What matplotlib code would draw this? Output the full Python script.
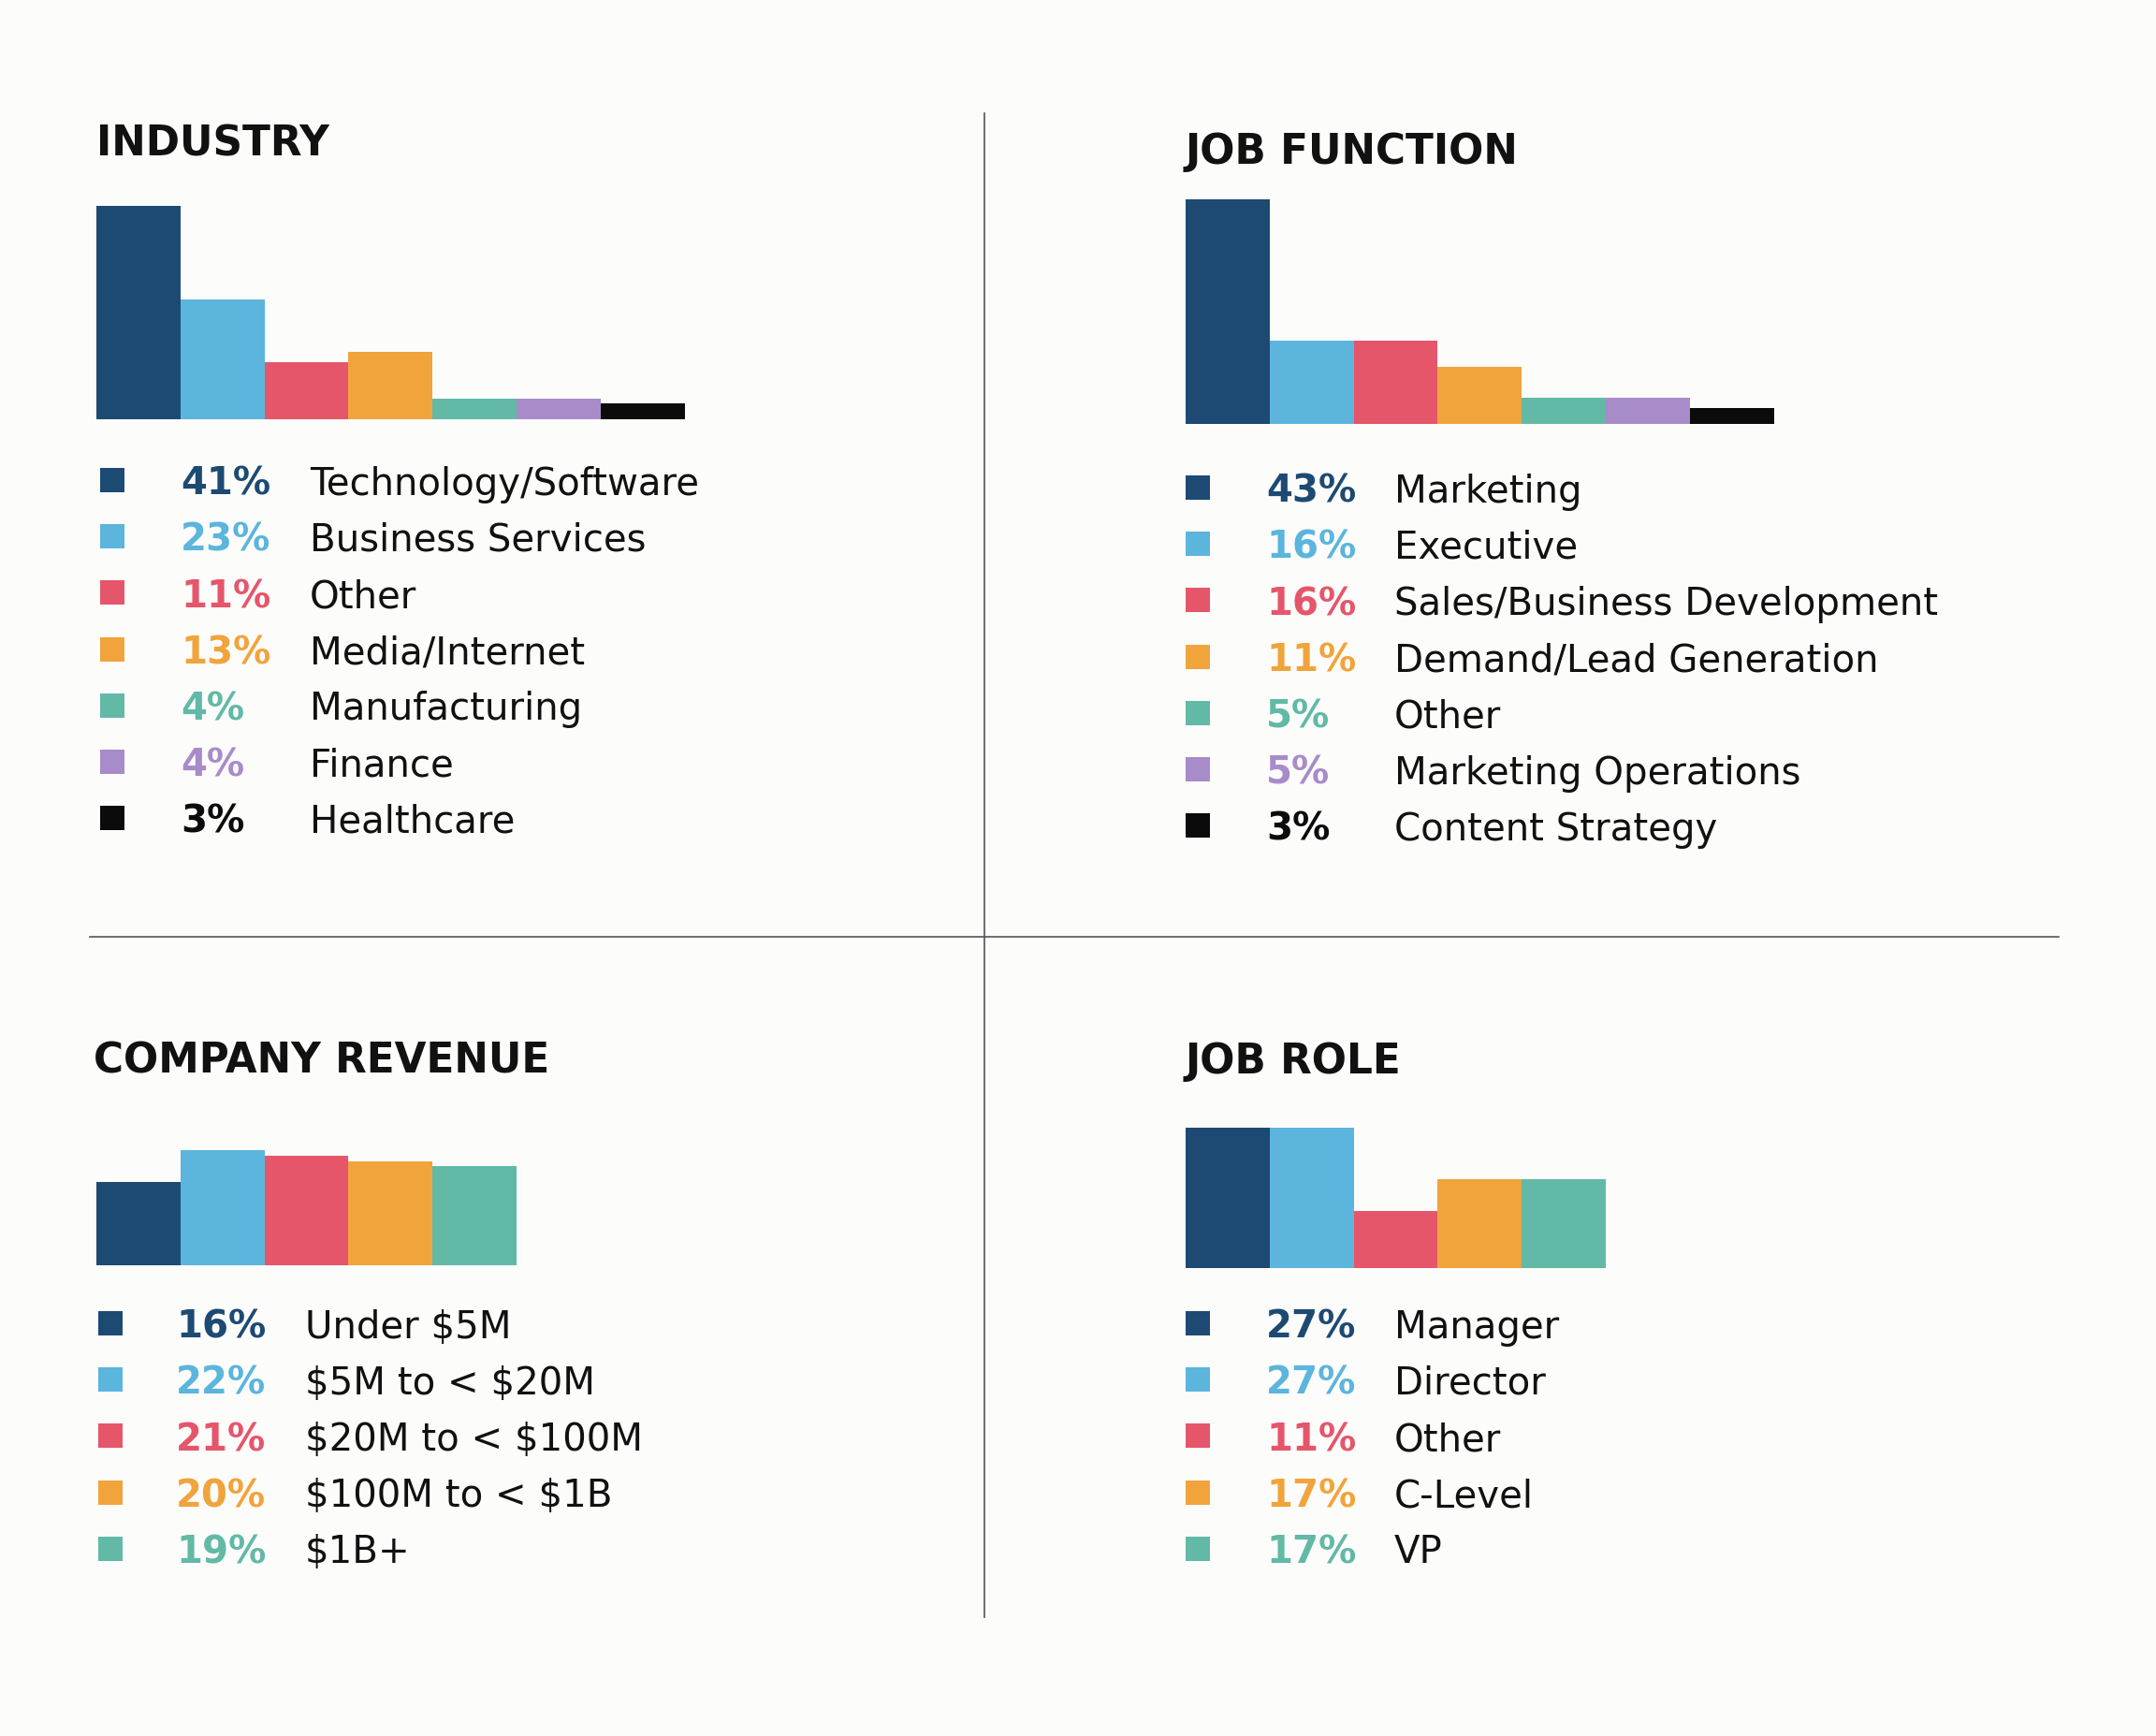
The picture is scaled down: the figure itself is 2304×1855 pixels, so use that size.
import matplotlib
matplotlib.use("Agg")
import matplotlib.pyplot as plt

# --- data -------------------------------------------------------------------
palette = ["#1d4a72", "#5bb5dd", "#e5566a", "#f1a43b", "#62b9a6", "#a88bc9", "#0b0b0b"]

industry_labels = ["Technology/Software", "Business Services", "Other", "Media/Internet",
                   "Manufacturing", "Finance", "Healthcare"]
industry_values = [41, 23, 11, 13, 4, 4, 3]

job_function_labels = ["Marketing", "Executive", "Sales/Business Development",
                       "Demand/Lead Generation", "Other", "Marketing Operations",
                       "Content Strategy"]
job_function_values = [43, 16, 16, 11, 5, 5, 3]

revenue_labels = ["Under $5M", "$5M to < $20M", "$20M to < $100M", "$100M to < $1B", "$1B+"]
revenue_values = [16, 22, 21, 20, 19]

job_role_labels = ["Manager", "Director", "Other", "C-Level", "VP"]
job_role_values = [27, 27, 11, 17, 17]

# --- layout (pixels on a 2304 x 1856 canvas) --------------------------------
W, H = 2304, 1856
PX_PER_PCT = 5.57
ROW_STEP = 60.2
BG = "#fcfcfb"
INK = "#111111"

# title, title_x, title_cy, bar_x0, bar_base, legend_y0, square_x, pct_x, label_x
panels = [
    ("INDUSTRY", 103, 151, 103, 449, 514, 120, 193, 331,
     industry_labels, industry_values),
    ("JOB FUNCTION", 1267, 159, 1267, 454, 522, 1280, 1353, 1490,
     job_function_labels, job_function_values),
    ("COMPANY REVENUE", 100, 1131, 103, 1353, 1415, 118, 188, 326,
     revenue_labels, revenue_values),
    ("JOB ROLE", 1267, 1131, 1267, 1356, 1415, 1280, 1353, 1490,
     job_role_labels, job_role_values),
]
BAR_W = 89.8  # pixels per bar

fig = plt.figure(figsize=(W / 100, H / 100), dpi=100, facecolor=BG)
ov = fig.add_axes([0, 0, 1, 1])
ov.set_xlim(0, W)
ov.set_ylim(H, 0)
ov.axis("off")

# dividers
ov.plot([1052, 1052], [122, 1729], color="#555555", lw=1.2)
ov.plot([96, 2200], [1002, 1002], color="#555555", lw=1.2)

TITLE_FS = 31.5
TEXT_FS = 29

for (title, tx, tcy, bx0, base, ly0, sqx, px, lx, labels, values) in panels:
    n = len(values)
    cols = palette[:n]

    # title (baseline = cap middle + half cap height)
    ov.text(tx, tcy + 0.729 * TITLE_FS / 72 * 100 / 2, title, fontsize=TITLE_FS,
            fontweight="heavy", color=INK, va="baseline", ha="left")

    # bars
    ymax = 50
    axb = fig.add_axes([bx0 / W, 1 - base / H, n * BAR_W / W, ymax * PX_PER_PCT / H])
    axb.bar(range(n), values, width=1.0, color=cols, linewidth=0)
    axb.set_xlim(-0.5, n - 0.5)
    axb.set_ylim(0, ymax)
    axb.axis("off")
    axb.patch.set_alpha(0)

    # legend rows
    off = 0.729 * TEXT_FS / 72 * 100 / 2
    for i, (lab, v, c) in enumerate(zip(labels, values, cols)):
        cy = ly0 + i * ROW_STEP
        ov.scatter([sqx], [cy], marker="s", s=19 ** 2, color=c, linewidths=0)
        ov.text(px, cy + off, f"{v}%", fontsize=TEXT_FS, fontweight="bold",
                color=c, va="baseline", ha="left")
        ov.text(lx, cy + off, lab, fontsize=TEXT_FS, color=INK,
                va="baseline", ha="left", parse_math=False)

fig.savefig("out.png", dpi=100, facecolor=BG)
